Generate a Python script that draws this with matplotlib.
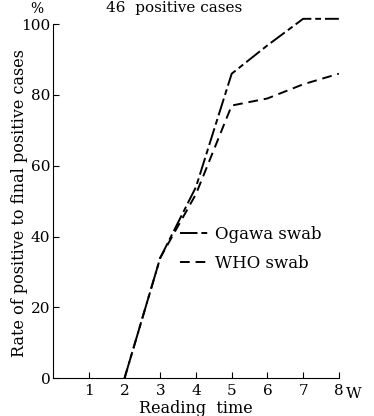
import matplotlib.pyplot as plt

# reading time (weeks) and rate of positive (%)
weeks = [2, 3, 4, 5, 6, 7, 8]
ogawa = [0, 34, 54, 86, 94, 101.5, 101.5]
who = [0, 34, 52, 77, 79, 83, 86]

plt.rcParams['font.family'] = ['DejaVu Serif']

fig = plt.figure(figsize=(3.74, 4.16), dpi=100)
ax = fig.add_axes([0.142, 0.091, 0.764, 0.851])

ax.plot(weeks, ogawa, color='black', linewidth=1.4, dashes=(9, 2, 3, 2),
        clip_on=False, label='Ogawa swab')
ax.plot(weeks, who, color='black', linewidth=1.4, dashes=(5, 3),
        clip_on=False, label='WHO swab')

ax.set_xlim(0, 8)
ax.set_ylim(0, 100)
ax.set_xticks(range(1, 9))
ax.set_yticks(range(0, 101, 20))
ax.tick_params(direction='in', length=4, labelsize=11, colors='black')
ax.tick_params(axis='x', pad=4)
ax.tick_params(axis='y', pad=2)
ax.spines['top'].set_visible(False)
ax.spines['right'].set_visible(False)

ax.set_xlabel('Reading  time', fontsize=11.5, labelpad=2)
ax.set_ylabel('Rate of positive to final positive cases', fontsize=11.5)
ax.yaxis.set_label_coords(-0.088, 0.495)
ax.text(8.2, -4.4, 'W', fontsize=11, va='center', ha='left')
ax.text(-0.45, 104.3, '%', fontsize=10, va='center', ha='center')
ax.text(3.4, 104.5, '46  positive cases', fontsize=11, va='center', ha='center')

ax.legend(frameon=False, loc='center left', bbox_to_anchor=(0.39, 0.365),
          handlelength=1.8, handletextpad=0.35, fontsize=12, labelspacing=0.75)

fig.savefig('out.png', dpi=100)
